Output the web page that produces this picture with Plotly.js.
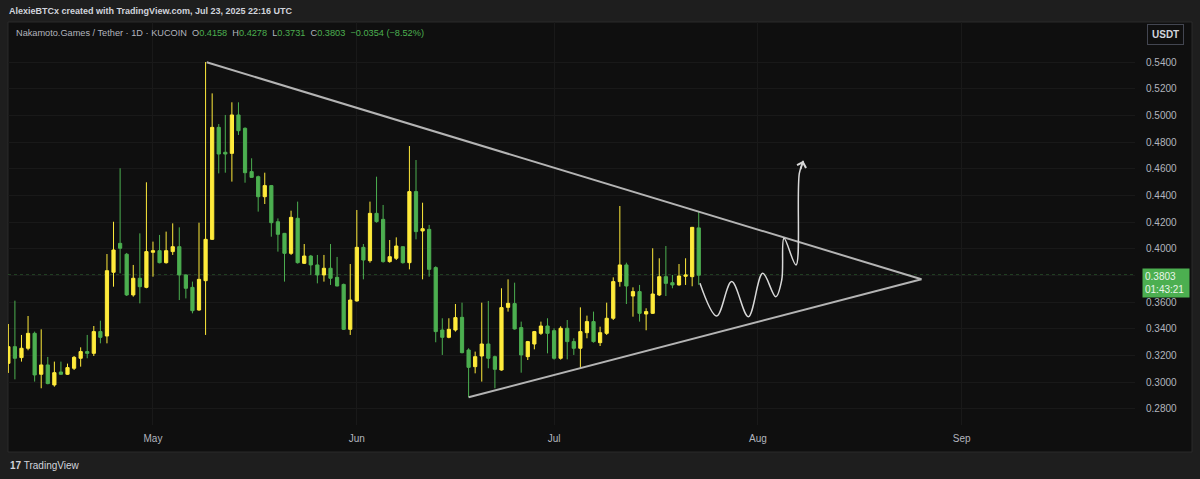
<!DOCTYPE html>
<html><head><meta charset="utf-8">
<script src="https://cdn.plot.ly/plotly-3.0.1.min.js"></script>
<style>html,body{margin:0;padding:0;background:#1e1e1e;overflow:hidden}#chart{width:1200px;height:479px}</style>
</head><body><div id="chart"></div>
<script>
const dates = [
'2025-04-09','2025-04-10','2025-04-11','2025-04-12','2025-04-13','2025-04-14','2025-04-15','2025-04-16','2025-04-17','2025-04-18',
'2025-04-19','2025-04-20','2025-04-21','2025-04-22','2025-04-23','2025-04-24','2025-04-25','2025-04-26','2025-04-27','2025-04-28',
'2025-04-29','2025-04-30','2025-05-01','2025-05-02','2025-05-03','2025-05-04','2025-05-05','2025-05-06','2025-05-07','2025-05-08',
'2025-05-09','2025-05-10','2025-05-11','2025-05-12','2025-05-13','2025-05-14','2025-05-15','2025-05-16','2025-05-17','2025-05-18',
'2025-05-19','2025-05-20','2025-05-21','2025-05-22','2025-05-23','2025-05-24','2025-05-25','2025-05-26','2025-05-27','2025-05-28',
'2025-05-29','2025-05-30','2025-05-31','2025-06-01','2025-06-02','2025-06-03','2025-06-04','2025-06-05','2025-06-06','2025-06-07',
'2025-06-08','2025-06-09','2025-06-10','2025-06-11','2025-06-12','2025-06-13','2025-06-14','2025-06-15','2025-06-16','2025-06-17',
'2025-06-18','2025-06-19','2025-06-20','2025-06-21','2025-06-22','2025-06-23','2025-06-24','2025-06-25','2025-06-26','2025-06-27',
'2025-06-28','2025-06-29','2025-06-30','2025-07-01','2025-07-02','2025-07-03','2025-07-04','2025-07-05','2025-07-06','2025-07-07',
'2025-07-08','2025-07-09','2025-07-10','2025-07-11','2025-07-12','2025-07-13','2025-07-14','2025-07-15','2025-07-16','2025-07-17',
'2025-07-18','2025-07-19','2025-07-20','2025-07-21','2025-07-22','2025-07-23'];
const openP = [
0.3142,0.3267,0.3185,0.3255,0.3367,0.3060,0.3130,0.2980,0.3077,0.3060,
0.3105,0.3180,0.3230,0.3217,0.3380,0.3347,0.3825,0.4042,0.3960,0.3655,
0.3780,0.3712,0.3975,0.3987,0.3897,0.3980,0.4017,0.3805,0.3712,0.3542,
0.3762,0.4072,0.4912,0.4725,0.4717,0.5005,0.4905,0.4580,0.4542,0.4392,
0.4475,0.4204,0.4117,0.3967,0.4230,0.3892,0.3947,0.3880,0.3805,0.3855,
0.3787,0.3734,0.3397,0.3610,0.4012,0.3912,0.4267,0.4222,0.3905,0.3930,
0.4017,0.3897,0.4430,0.4135,0.4147,0.3860,0.3392,0.3337,0.3392,0.3487,
0.3242,0.3117,0.3197,0.3287,0.3192,0.3092,0.3562,0.3590,0.3410,0.3192,
0.3287,0.3367,0.3422,0.3387,0.3180,0.3405,0.3305,0.3255,0.3372,0.3455,
0.3297,0.3367,0.3480,0.3755,0.3880,0.3647,0.3680,0.3512,0.3517,0.3655,
0.3792,0.3747,0.3730,0.3795,0.3792,0.4158];
const highP = [
0.3437,0.3612,0.3355,0.3497,0.3380,0.3397,0.3190,0.3155,0.3155,0.3140,
0.3197,0.3262,0.3355,0.3422,0.3462,0.3962,0.4204,0.4605,0.3970,0.3880,
0.4117,0.4500,0.4055,0.4105,0.4130,0.4192,0.4162,0.3810,0.3755,0.4197,
0.5402,0.5167,0.4937,0.5005,0.5100,0.5100,0.4912,0.4680,0.4550,0.4572,
0.4480,0.4229,0.4120,0.4287,0.4355,0.4037,0.3955,0.3955,0.3955,0.4037,
0.3940,0.3740,0.3887,0.4292,0.4037,0.4355,0.4542,0.4330,0.4067,0.4087,
0.4020,0.4772,0.4667,0.4347,0.4180,0.3870,0.3480,0.3480,0.3587,0.3597,
0.3255,0.3230,0.3597,0.3610,0.3200,0.3705,0.3772,0.3747,0.3455,0.3310,
0.3385,0.3455,0.3480,0.3405,0.3420,0.3467,0.3330,0.3562,0.3500,0.3530,
0.3417,0.3597,0.3787,0.4322,0.3897,0.3712,0.3730,0.3555,0.4005,0.3930,
0.4022,0.3805,0.3887,0.3930,0.4165,0.4278];
const lowP = [
0.3070,0.3022,0.3155,0.3240,0.3005,0.2955,0.2985,0.2967,0.3055,0.3055,
0.3092,0.3117,0.3180,0.3197,0.3292,0.3292,0.3717,0.3817,0.3647,0.3642,
0.3592,0.3705,0.3792,0.3892,0.3890,0.3955,0.3617,0.3629,0.3517,0.3537,
0.3355,0.4067,0.4567,0.4572,0.4505,0.4855,0.4497,0.4535,0.4280,0.4337,
0.4092,0.3980,0.3755,0.3955,0.3890,0.3887,0.3805,0.3742,0.3755,0.3730,
0.3720,0.3392,0.3355,0.3605,0.3772,0.3897,0.4197,0.3897,0.3897,0.3917,
0.3890,0.3847,0.4072,0.3772,0.3792,0.3300,0.3205,0.3330,0.3380,0.3217,
0.2887,0.3067,0.3005,0.3105,0.2955,0.3087,0.3530,0.3395,0.3072,0.3167,
0.3247,0.3355,0.3217,0.3170,0.3170,0.3172,0.3205,0.3105,0.3330,0.3297,
0.3272,0.3355,0.3467,0.3717,0.3587,0.3492,0.3455,0.3390,0.3512,0.3647,
0.3647,0.3705,0.3725,0.3730,0.3720,0.3731];
const closeP = [
0.3267,0.3180,0.3255,0.3367,0.3055,0.3130,0.2990,0.3072,0.3060,0.3110,
0.3187,0.3230,0.3217,0.3380,0.3337,0.3837,0.3992,0.4005,0.3655,0.3780,
0.3717,0.3980,0.3987,0.3897,0.3987,0.4017,0.3805,0.3705,0.3537,0.3772,
0.4072,0.4912,0.4712,0.4712,0.5005,0.4887,0.4572,0.4537,0.4392,0.4475,
0.4197,0.4110,0.3967,0.4237,0.3897,0.3947,0.3880,0.3805,0.3855,0.3780,
0.3722,0.3397,0.3617,0.4012,0.3917,0.4267,0.4205,0.3905,0.3942,0.4022,
0.3897,0.4430,0.4130,0.4152,0.3847,0.3380,0.3337,0.3397,0.3485,0.3222,
0.3112,0.3192,0.3287,0.3180,0.3097,0.3560,0.3592,0.3400,0.3205,0.3305,
0.3380,0.3422,0.3367,0.3180,0.3405,0.3305,0.3255,0.3380,0.3455,0.3305,
0.3372,0.3480,0.3755,0.3880,0.3722,0.3680,0.3517,0.3530,0.3662,0.3792,
0.3742,0.3730,0.3797,0.3805,0.4162,0.3803];

// Triangle (drawing) end points
const upperLineX = ['2025-05-09 04:00','2025-08-25 21:00'];
const upperLineY = [0.5400, 0.3773];
const lowerLineX = ['2025-06-18 00:00','2025-08-25 21:00'];
const lowerLineY = [0.2887, 0.3773];
// Hand-drawn projection path
const pathX = ['2025-07-23 04:30','2025-07-25 17:30','2025-07-28 00:15','2025-07-30 13:00','2025-08-01 17:30',
               '2025-08-03 17:00','2025-08-04 15:00','2025-08-04 23:15','2025-08-06 19:00','2025-08-07 07:10','2025-08-07 21:40'];
const pathY = [0.3742,0.3497,0.3755,0.3492,0.3817,0.3642,0.3767,0.4080,0.3880,0.4567,0.4662];

const monthTicks = ['2025-05-01','2025-06-01','2025-07-01','2025-08-01','2025-09-01'];
const monthLabels = ['May','Jun','Jul','Aug','Sep'];
const priceTicks = [0.28,0.30,0.32,0.34,0.36,0.38,0.40,0.42,0.44,0.46,0.48,0.50,0.52,0.54];
const lastClose = 0.3803;
const countdown = '01:43:21';

const YEL = '#ffeb3b', GRN = '#4caf50', TXT = '#b2b5be';
const FONT = 'Liberation Sans, Arial, sans-serif';

const traces = [
  {type:'scatter', mode:'lines', x:upperLineX, y:upperLineY, line:{color:'#b4b4b4', width:2}, hoverinfo:'skip'},
  {type:'scatter', mode:'lines', x:lowerLineX, y:lowerLineY, line:{color:'#b4b4b4', width:2}, hoverinfo:'skip'},
  {type:'candlestick', x:dates, open:openP, high:highP, low:lowP, close:closeP,
   increasing:{line:{color:YEL, width:1}, fillcolor:YEL},
   decreasing:{line:{color:GRN, width:1}, fillcolor:GRN}, whiskerwidth:0},
  {type:'scatter', mode:'lines', x:pathX, y:pathY, line:{color:'#d8d8d8', width:1.5, shape:'spline', smoothing:1}, hoverinfo:'skip'}
];

const px = p => (p-8)/1127;           // pixel -> paper x
const py = p => (425-p)/403;          // pixel -> paper y

const layout = {
  width:1200, height:479,
  margin:{l:8, r:65, t:22, b:54},
  paper_bgcolor:'#1e1e1e', plot_bgcolor:'rgba(0,0,0,0)',
  showlegend:false, dragmode:false,
  font:{family:FONT, color:TXT, size:10},
  boxgap:0.3,
  xaxis:{type:'date', range:['2025-04-08 22:48','2025-09-27 08:24'], rangeslider:{visible:false},
    tickvals:monthTicks, ticktext:monthLabels, showgrid:true, gridcolor:'#191919', gridwidth:1,
    zeroline:false, showline:false, ticks:'', ticklabelstandoff:6, tickfont:{size:10, color:TXT}, fixedrange:true},
  yaxis:{side:'right', range:[0.26795,0.57023], tickvals:priceTicks, tickformat:'.4f',
    showgrid:true, gridcolor:'#191919', gridwidth:1, zeroline:false, showline:false, ticks:'',
    ticklabelstandoff:10, tickfont:{size:10, color:TXT}, fixedrange:true},
  shapes:[
    {type:'rect', xref:'paper', yref:'paper', x0:px(8), x1:px(1192), y0:py(452), y1:py(22),
     fillcolor:'#0f0f0f', line:{color:'#2a2a2a', width:1}, layer:'below'},
    {type:'line', xref:'paper', yref:'y', x0:0, x1:1, y0:lastClose, y1:lastClose,
     line:{color:GRN, width:1, dash:'dot'}, layer:'below'}
  ],
  annotations:[
    {xref:'paper', yref:'paper', x:px(7), y:py(11), xanchor:'left', yanchor:'middle', showarrow:false,
     text:'<b>AlexieBTCx created with TradingView.com, Jul 23, 2025 22:16 UTC</b>', font:{size:9, color:'#d1d4dc'}},
    {xref:'paper', yref:'paper', x:px(14), y:py(33), xanchor:'left', yanchor:'middle', showarrow:false,
     text:'Nakamoto.Games / Tether · 1D · KUCOIN  O<span style="color:'+GRN+'">0.4158</span>  H<span style="color:'+GRN+'">0.4278</span>  L<span style="color:'+GRN+'">0.3731</span>  C<span style="color:'+GRN+'">0.3803</span>  <span style="color:'+GRN+'">−0.0354 (−8.52%)</span>',
     font:{size:9.2, color:TXT}},
    {xref:'paper', yref:'paper', x:px(1165.5), y:py(35), xanchor:'center', yanchor:'middle', showarrow:false,
     text:'<b>USDT</b>', font:{size:10, color:'#d1d4dc'}, bordercolor:'#434651', borderwidth:1, borderpad:4, bgcolor:'#0f0f0f'},
    {xref:'paper', yref:'y', x:px(1142), y:lastClose, xanchor:'left', yanchor:'top', yshift:7, showarrow:false,
     text:lastClose.toFixed(4)+'<br>'+countdown, align:'left', font:{size:10, color:'#e8f5e9'},
     bgcolor:GRN, borderpad:2, width:42},
    {xref:'x', yref:'y', x:pathX[pathX.length-1], y:pathY[pathY.length-1], ax:-3, ay:10, showarrow:true,
     arrowhead:4, arrowsize:1.2, arrowwidth:1.5, arrowcolor:'#d8d8d8', text:''},
    {xref:'paper', yref:'paper', x:px(8), y:py(465), xanchor:'left', yanchor:'middle', showarrow:false,
     text:'<b>17</b> TradingView', font:{size:10, color:'#d1d4dc'}}
  ]
};

Plotly.newPlot('chart', traces, layout, {staticPlot:true, displayModeBar:false});
</script></body></html>
